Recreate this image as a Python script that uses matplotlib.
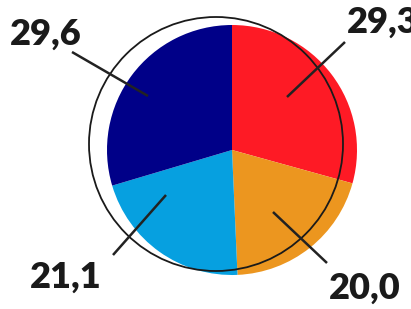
import matplotlib
matplotlib.use('Agg')
import matplotlib.pyplot as plt
from matplotlib.patches import Circle

W, H = 411, 309

values = [29.3, 20.0, 21.1, 29.6]
labels = ['29,3', '20,0', '21,1', '29,6']
colors = ['#FE1A25', '#EC961F', '#06A0E0', '#000088']

# label text anchor (left, baseline) and leader line ends, in pixels from top-left
label_pos = [(347, 33), (329, 299), (30, 288), (10, 45)]
leader_lines = [((345, 42), (287, 97)), ((327, 263), (273, 212)),
                ((113, 255), (166, 195)), ((72, 52), (148, 96))]

fig = plt.figure(figsize=(W / 100, H / 100), dpi=100)
ax = fig.add_axes([0, 0, 1, 1])

ax.pie(values, colors=colors, startangle=90, counterclock=False,
       center=(232, H - 150), radius=125, frame=True,
       wedgeprops=dict(linewidth=0))
ax.set_xlim(0, W)
ax.set_ylim(0, H)
ax.set_aspect('equal')
ax.axis('off')

ax.add_patch(Circle((216, H - 144), 127, fill=False, edgecolor='#1a1a1a',
                    linewidth=1.3, zorder=3))

for (p0, p1) in leader_lines:
    ax.plot([p0[0], p1[0]], [H - p0[1], H - p1[1]], color='#222222',
            linewidth=1.8, solid_capstyle='butt', zorder=4)

for text, (x, y) in zip(labels, label_pos):
    ax.text(x, H - y, text, fontsize=26, fontweight='heavy', family='Lato',
            color='#1a1a1a', ha='left', va='baseline', zorder=5)

fig.savefig('out.png', dpi=100)
